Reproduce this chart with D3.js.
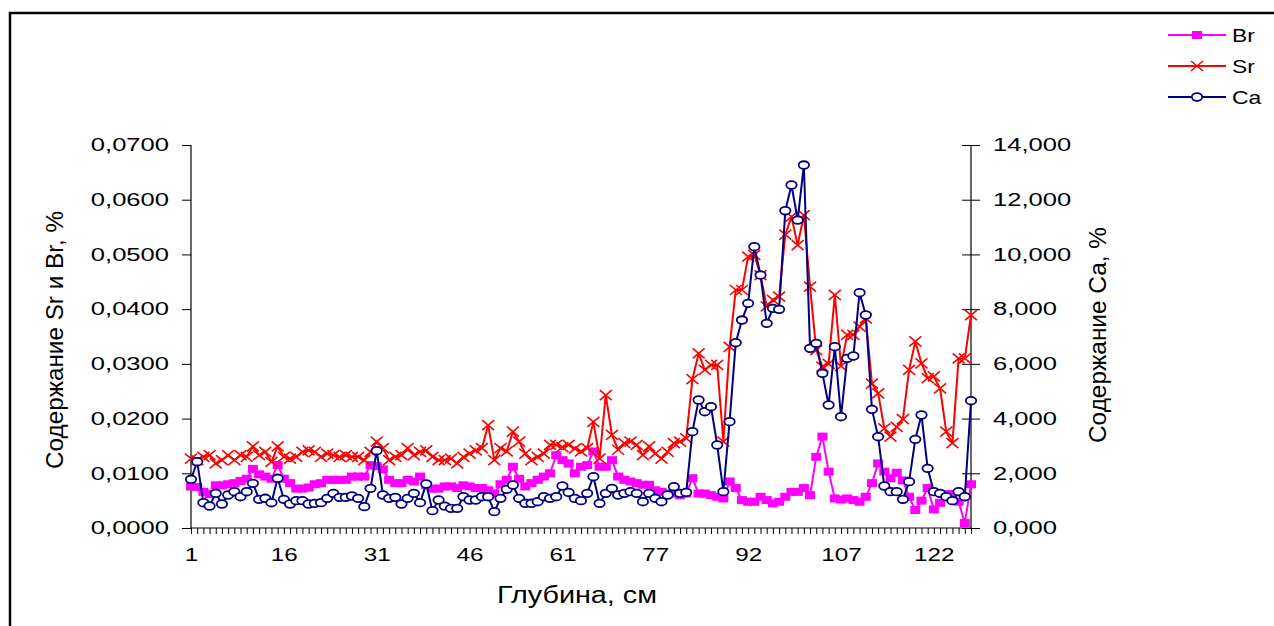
<!DOCTYPE html>
<html><head><meta charset="utf-8">
<script src="https://cdn.jsdelivr.net/npm/d3@7"></script>
<style>
html,body{margin:0;padding:0;background:#fff;}
svg{display:block;}
text{font-family:"Liberation Sans",Arial,sans-serif;fill:#000;}
</style></head>
<body>
<svg id="chart" width="1274" height="626"></svg>
<script>
// ---- data ----
const categories = [1,2,3,4,5,6,7,8,9,10,11,12,13,14,15,16,17,18,19,20,21,22,23,24,25,26,27,28,29,30,
31,32,33,34,35,36,37,38,39,40,41,42,43,44,45,46,47,48,49,50,51,52,53,54,55,56,57,58,59,60,61,
63,64,65,66,67,68,69,70,71,72,73,74,75,76,77,78,79,80,81,82,83,84,85,86,87,88,89,90,91,92,
93,94,95,96,97,98,99,100,101,102,103,104,105,106,107,108,109,110,111,112,113,114,115,116,117,118,119,120,
121,122,123,124,125,126,127,128];
const tickLabelCats = [1,16,31,46,61,77,92,107,122];
const leftTicks = [0,0.01,0.02,0.03,0.04,0.05,0.06,0.07];
const rightTicks = [0,2,4,6,8,10,12,14];
const seriesNames = ["Br","Sr","Ca"];

const br = [0.0076,0.0075,0.0066,0.0062,0.0078,0.0078,0.0080,0.0082,0.0086,0.0090,0.0108,0.0098,0.0094,0.0090,0.0115,0.0090,0.0082,0.0072,0.0072,0.0074,
0.0080,0.0082,0.0088,0.0088,0.0088,0.0088,0.0094,0.0094,0.0094,0.0115,0.0113,0.0107,0.0088,0.0082,0.0082,0.0088,0.0085,0.0094,0.0078,0.0072,
0.0072,0.0076,0.0076,0.0073,0.0078,0.0076,0.0073,0.0073,0.0069,0.0063,0.0080,0.0088,0.0112,0.0090,0.0076,0.0082,0.0088,0.0094,0.0100,0.0133,
0.0124,0.0118,0.0100,0.0112,0.0115,0.0140,0.0112,0.0112,0.0124,0.0094,0.0088,0.0085,0.0082,0.0079,0.0079,0.0069,0.0066,0.0063,0.0063,0.0060,
0.0063,0.0091,0.0063,0.0063,0.0060,0.0057,0.0054,0.0085,0.0073,0.0051,0.0048,0.0048,0.0057,0.0051,0.0045,0.0048,0.0057,0.0066,0.0066,0.0073,
0.0060,0.0130,0.0167,0.0103,0.0054,0.0052,0.0054,0.0051,0.0048,0.0057,0.0082,0.0118,0.0103,0.0091,0.0101,0.0087,0.0057,0.0033,0.0050,0.0073,
0.0034,0.0046,0.0062,0.0062,0.0048,0.0009,0.0080];

const sr = [0.0127,0.0124,0.0130,0.0133,0.0118,0.0124,0.0133,0.0124,0.0133,0.0130,0.0149,0.0133,0.0139,0.0121,0.0149,0.0130,0.0127,0.0130,0.0139,0.0142,
0.0139,0.0130,0.0136,0.0133,0.0130,0.0133,0.0130,0.0130,0.0124,0.0139,0.0158,0.0146,0.0124,0.0130,0.0133,0.0146,0.0133,0.0139,0.0142,0.0130,
0.0124,0.0124,0.0127,0.0118,0.0130,0.0136,0.0142,0.0146,0.0188,0.0124,0.0146,0.0140,0.0176,0.0158,0.0136,0.0124,0.0130,0.0136,0.0152,0.0152,
0.0148,0.0152,0.0145,0.0140,0.0146,0.0194,0.0127,0.0243,0.0170,0.0143,0.0155,0.0158,0.0152,0.0133,0.0149,0.0136,0.0127,0.0139,0.0155,0.0158,
0.0164,0.0272,0.0319,0.0289,0.0298,0.0298,0.0158,0.0331,0.0435,0.0435,0.0496,0.0499,0.0462,0.0405,0.0417,0.0423,0.0536,0.0569,0.0517,0.0572,
0.0441,0.0325,0.0295,0.0300,0.0426,0.0296,0.0353,0.0353,0.0368,0.0383,0.0264,0.0246,0.0182,0.0167,0.0185,0.0199,0.0289,0.0341,0.0301,0.0274,
0.0277,0.0255,0.0176,0.0155,0.0310,0.0310,0.0389];

const ca = [1.780,2.423,0.925,0.804,1.268,0.877,1.206,1.327,1.145,1.327,1.633,1.048,1.085,0.925,1.816,1.048,0.877,0.999,0.999,0.877,
0.900,0.926,1.084,1.267,1.121,1.121,1.170,1.084,0.780,1.450,2.826,1.206,1.084,1.121,0.877,1.084,1.267,0.926,1.608,0.634,
1.023,0.800,0.719,0.719,1.145,1.023,1.023,1.145,1.145,0.597,1.084,1.413,1.572,1.084,0.902,0.902,0.962,1.145,1.084,1.145,
1.535,1.300,1.084,0.999,1.267,1.876,0.901,1.267,1.450,1.206,1.267,1.328,1.267,0.962,1.267,1.084,0.962,1.206,1.511,1.267,
1.300,3.521,4.678,4.252,4.435,3.034,1.328,3.887,6.774,7.602,8.211,10.283,9.247,7.480,8.029,7.992,11.598,12.537,11.257,13.268,
6.567,6.750,5.653,4.496,6.628,4.069,6.202,6.287,8.601,7.785,4.337,3.338,1.535,1.328,1.328,1.048,1.694,3.240,4.130,2.181,
1.328,1.267,1.145,0.999,1.328,1.145,4.653];

// ---- layout ----
const svg = d3.select("#chart");
const X0 = 191, X1 = 971, YT = 145, YB = 528;
const TK = 1.42; // horizontal stretch of the text

function stretch(sel, k){
  sel.each(function(){
    const len = this.getComputedTextLength();
    if (len > 0){
      this.setAttribute("textLength", (len*k).toFixed(1));
      this.setAttribute("lengthAdjust","spacingAndGlyphs");
    }
  });
}

svg.append("rect").attr("x",10).attr("y",13).attr("width",1300).attr("height",700)
  .attr("fill","#fff").attr("stroke","#000").attr("stroke-width",2.5);

const x = d3.scalePoint().domain(categories).range([X0, X1]);
const yL = d3.scaleLinear().domain([0,0.07]).range([YB, YT]);
const yR = d3.scaleLinear().domain([0,14]).range([YB, YT]);

// left axis
const gL = svg.append("g").attr("transform",`translate(${X0},0)`)
  .call(d3.axisLeft(yL).tickValues(leftTicks).tickSize(9).tickPadding(13)
    .tickFormat(d => d.toFixed(4).replace(".",",")));
// right axis
const gR = svg.append("g").attr("transform",`translate(${X1},0)`)
  .call(d3.axisRight(yR).tickValues(rightTicks).tickSize(9).tickPadding(13)
    .tickFormat(d => d.toFixed(3).replace(".",",")));
gR.selectAll(".tick line").attr("x1",-9);
// bottom axis
const gB = svg.append("g").attr("transform",`translate(0,${YB})`)
  .call(d3.axisBottom(x).tickValues(categories).tickSize(6).tickPadding(14)
    .tickFormat(d => tickLabelCats.includes(d) ? String(d) : ""));

[gL,gR,gB].forEach(g => {
  g.select(".domain").attr("stroke","#000").attr("stroke-width",1.2);
  g.selectAll(".tick line").attr("stroke","#000").attr("stroke-width",1);
  g.selectAll(".tick text").attr("font-size",18).attr("font-family","Liberation Sans, Arial, sans-serif").attr("fill","#000");
});
gB.select(".domain").attr("d",`M${X0},0H${X1}`);
gL.select(".domain").attr("d",`M0,${YB}V${YT}`);
gR.select(".domain").attr("d",`M0,${YB}V${YT}`);
stretch(gL.selectAll(".tick text"), TK);
stretch(gR.selectAll(".tick text"), TK);
stretch(gB.selectAll(".tick text"), 1.35);

// axis titles
const tB = svg.append("text").attr("x",(X0+X1)/2 - 4).attr("y",603).attr("text-anchor","middle")
  .attr("font-size",23).text("Глубина, см");
stretch(tB, 1.25);
const tL = svg.append("text").attr("transform","translate(63,340) rotate(-90)").attr("text-anchor","middle")
  .attr("font-size",23).text("Содержание Sr и Br, %");
tL.attr("textLength",258).attr("lengthAdjust","spacingAndGlyphs");
const tR = svg.append("text").attr("transform","translate(1106,335) rotate(-90)").attr("text-anchor","middle")
  .attr("font-size",23).text("Содержание Са, %");
tR.attr("textLength",216).attr("lengthAdjust","spacingAndGlyphs");

// series
const colors = {Br:"#FF00FF", Sr:"#FF0000", Ca:"#000080"};
function drawLine(vals, yS, color){
  const line = d3.line().x((d,i)=>x(categories[i])).y(d=>yS(d));
  svg.append("path").datum(vals).attr("d",line).attr("fill","none")
    .attr("stroke",color).attr("stroke-width",2).attr("stroke-linejoin","round");
}
function squareMarkers(g, pts, color){
  g.selectAll(null).data(pts).enter().append("rect")
    .attr("x",d=>d[0]-5).attr("y",d=>d[1]-4).attr("width",10).attr("height",8).attr("fill",color);
}
function crossMarkers(g, pts, color){
  g.selectAll(null).data(pts).enter().append("path")
    .attr("d",d=>`M${d[0]-6},${d[1]-5}L${d[0]+6},${d[1]+5}M${d[0]-6},${d[1]+5}L${d[0]+6},${d[1]-5}`)
    .attr("stroke",color).attr("stroke-width",1.6).attr("fill","none");
}
function circleMarkers(g, pts, color){
  g.selectAll(null).data(pts).enter().append("ellipse")
    .attr("cx",d=>d[0]).attr("cy",d=>d[1]).attr("rx",5.2).attr("ry",3.8)
    .attr("fill","#fff").attr("stroke",color).attr("stroke-width",1.8);
}

drawLine(br, yL, colors.Br);
squareMarkers(svg.append("g"), br.map((v,i)=>[x(categories[i]), yL(v)]), colors.Br);
drawLine(sr, yL, colors.Sr);
crossMarkers(svg.append("g"), sr.map((v,i)=>[x(categories[i]), yL(v)]), colors.Sr);
drawLine(ca, yR, colors.Ca);
circleMarkers(svg.append("g"), ca.map((v,i)=>[x(categories[i]), yR(v)]), colors.Ca);

// legend
const legY = [35,66,97];
seriesNames.forEach((name,k)=>{
  const g = svg.append("g");
  const c = colors[name];
  g.append("line").attr("x1",1168).attr("x2",1226).attr("y1",legY[k]).attr("y2",legY[k])
    .attr("stroke",c).attr("stroke-width",2);
  const p = [[1197, legY[k]]];
  if (name==="Br") squareMarkers(g, p, c);
  if (name==="Sr") crossMarkers(g, p, c);
  if (name==="Ca") circleMarkers(g, p, c);
  const t = g.append("text").attr("x",1232).attr("y",legY[k]).attr("dy","0.35em")
    .attr("font-size",19).text(name);
  stretch(t, 1.2);
});
</script>
</body></html>
